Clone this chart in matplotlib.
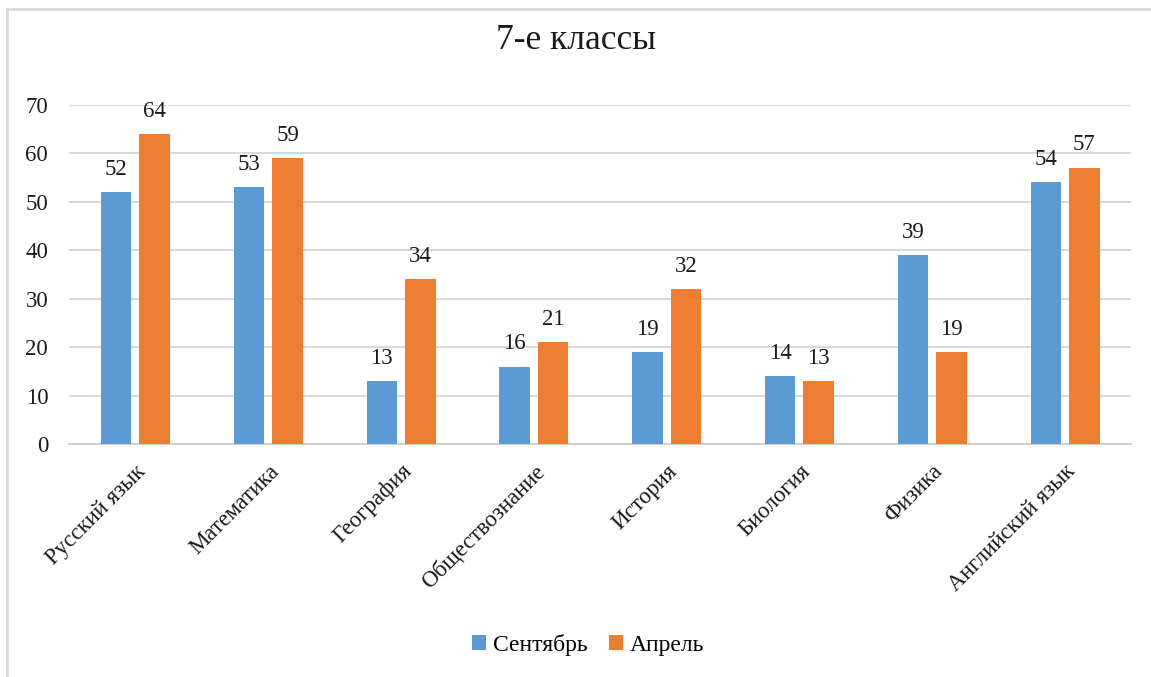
import matplotlib
matplotlib.use("Agg")
import matplotlib.pyplot as plt
from matplotlib.lines import Line2D
import numpy as np

predmety = ["Русский язык", "Математика", "География", "Обществознание",
            "История", "Биология", "Физика", "Английский язык"]
sentyabr = [52, 53, 13, 16, 19, 14, 39, 54]
aprel = [64, 59, 34, 21, 32, 13, 19, 57]
yticks = [0, 10, 20, 30, 40, 50, 60, 70]

plt.rcParams['font.family'] = ['Liberation Serif', 'DejaVu Serif']

fig = plt.figure(figsize=(11.51, 6.77), dpi=100)
ax = fig.add_axes([0.06, 0.344, 0.923, 0.501])

x = np.arange(len(predmety))
w = 0.23
b1 = ax.bar(x - 0.145, sentyabr, w, color='#5B9BD5', label='Сентябрь', zorder=3)
b2 = ax.bar(x + 0.145, aprel, w, color='#ED7D31', label='Апрель', zorder=3)
ax.bar_label(b1, padding=9, fontsize=16.5, color='#1a1a1a')
ax.bar_label(b2, padding=9, fontsize=16.5, color='#1a1a1a')

ax.set_xlim(-0.5, len(predmety) - 0.5)
ax.set_ylim(0, 70)
ax.set_yticks(yticks)
ax.yaxis.grid(True, color='#d9d9d9', linewidth=1.5, zorder=0)
ax.set_axisbelow(True)
for s in ['top', 'right', 'left']:
    ax.spines[s].set_visible(False)
ax.spines['bottom'].set_color('#d0d0d0')
ax.spines['bottom'].set_linewidth(1.5)
ax.tick_params(axis='y', length=0, pad=15, labelsize=16.5, labelcolor='#1a1a1a')
ax.tick_params(axis='x', length=0, pad=12, labelsize=16.5, labelcolor='#1a1a1a')
ax.set_xticks(x)
ax.set_xticklabels(predmety, rotation=45, ha='right', rotation_mode='anchor')

fig.text(0.5, 0.94, "7-е классы", ha='center', va='center', fontsize=25.5, color='#1a1a1a')

fig.legend(loc='center', bbox_to_anchor=(0.511, 0.047), ncol=2, frameon=False,
           fontsize=17, handlelength=0.6, handleheight=0.6, handletextpad=0.3,
           columnspacing=0.9)

# рамка диаграммы
fig.add_artist(Line2D([7 / 1151, 1], [1 - 9 / 677, 1 - 9 / 677], color='#d9d9d9', linewidth=2))
fig.add_artist(Line2D([7 / 1151, 7 / 1151], [0, 1 - 9 / 677], color='#d9d9d9', linewidth=2))

fig.savefig("out.png", dpi=100)
